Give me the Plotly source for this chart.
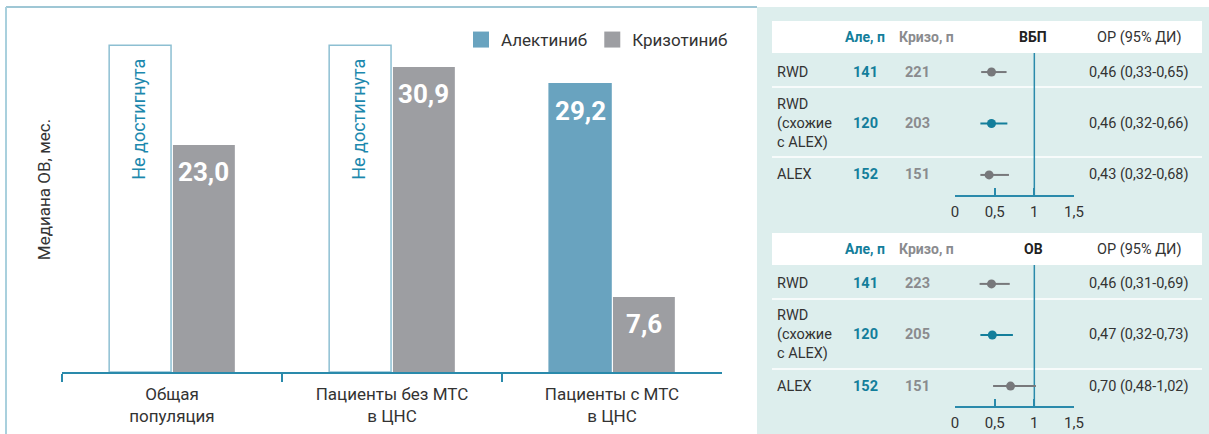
import plotly.graph_objects as go

# ---------------- data ----------------
categories = ["Общая<br>популяция", "Пациенты без МТС<br>в ЦНС", "Пациенты с МТС<br>в ЦНС"]
alectinib_os = [None, None, 29.2]          # None = медиана не достигнута
crizotinib_os = [23.0, 30.9, 7.6]
NOT_REACHED_HEIGHT = 33.1                   # display height of "not reached" bar
NOT_REACHED_TEXT = "Не достигнута"

forest_labels = ["RWD", "RWD<br>(схожие<br>с ALEX)", "ALEX"]
forest_highlight = [False, True, False]
ale_n_pfs = [141, 120, 152]
kriz_n_pfs = [221, 203, 151]
hr_pfs = [0.46, 0.46, 0.43]
lo_pfs = [0.33, 0.32, 0.32]
hi_pfs = [0.65, 0.66, 0.68]
ale_n_os = [141, 120, 152]
kriz_n_os = [223, 205, 151]
hr_os = [0.46, 0.47, 0.70]
lo_os = [0.31, 0.32, 0.48]
hi_os = [0.69, 0.73, 1.02]
forest_ticks = [0, 0.5, 1, 1.5]
forest_ticktext = ["0", "0,5", "1", "1,5"]

# ---------------- style ----------------
W, H = 1209, 434
FONT = "Roboto, DejaVu Sans Condensed, sans-serif"
C_ALE = "#69a3bf"
C_KRIZ = "#9d9ea2"
C_OUTLINE = "#8dbfd2"
C_TEAL_TXT = "#1c88ad"
C_AXIS = "#2a8aab"
C_TXT = "#333333"
C_PANEL = "#ddeeed"
C_F_GRAY = "#77787b"
C_F_TEAL = "#137e9b"
C_N_GRAY = "#8a8b8e"


def px(x):
    return x / W


def py(y):
    return 1 - y / H


def fmt(v):
    return f"{v:.1f}".replace(".", ",")


def fmt2(v):
    return f"{v:.2f}".replace(".", ",")


fig = go.Figure()

# ---------------- bar chart ----------------
ale_heights = [NOT_REACHED_HEIGHT if v is None else v for v in alectinib_os]
ale_fill = ["white" if v is None else C_ALE for v in alectinib_os]
ale_line = [C_OUTLINE if v is None else C_ALE for v in alectinib_os]

fig.add_trace(go.Bar(
    x=categories, y=ale_heights, name="Алектиниб", showlegend=False,
    marker=dict(color=ale_fill, line=dict(color=ale_line, width=1.5)),
    xaxis="x", yaxis="y", hoverinfo="skip"))
fig.add_trace(go.Bar(
    x=categories, y=crizotinib_os, name="Кризотиниб", showlegend=False,
    marker=dict(color=C_KRIZ, line=dict(color=C_KRIZ, width=0)),
    xaxis="x", yaxis="y", hoverinfo="skip"))

# legend-only entries (square swatches)
for nm, col in [("Алектиниб", C_ALE), ("Кризотиниб", C_KRIZ)]:
    fig.add_trace(go.Scatter(
        x=[None], y=[None], mode="markers", name=nm,
        marker=dict(symbol="square", size=18, color=col),
        xaxis="x", yaxis="y"))

annotations = []
BAR_OFFSET = 31.5
VAL_FONT = dict(family=FONT, size=26, color="white")
for cat, a, k in zip(categories, alectinib_os, crizotinib_os):
    if a is None:
        annotations.append(dict(
            x=cat, y=NOT_REACHED_HEIGHT, xref="x", yref="y", text=NOT_REACHED_TEXT,
            textangle=-90, showarrow=False, xshift=-BAR_OFFSET - 2, yshift=-74,
            yanchor="middle", xanchor="center",
            font=dict(family=FONT, size=18, color=C_TEAL_TXT)))
    else:
        annotations.append(dict(
            x=cat, y=a, xref="x", yref="y", text=f"<b>{fmt(a)}</b>",
            showarrow=False, xshift=-BAR_OFFSET, yshift=-27, yanchor="middle",
            xanchor="center", font=VAL_FONT))
    annotations.append(dict(
        x=cat, y=k, xref="x", yref="y", text=f"<b>{fmt(k)}</b>",
        showarrow=False, xshift=BAR_OFFSET, yshift=-27, yanchor="middle",
        xanchor="center", font=VAL_FONT))

# ---------------- forest plots ----------------
panels = [
    dict(title="ВБП", ale=ale_n_pfs, kriz=kriz_n_pfs, hr=hr_pfs, lo=lo_pfs, hi=hi_pfs,
         xa="x2", ya="y2", top=21),
    dict(title="ОВ", ale=ale_n_os, kriz=kriz_n_os, hr=hr_os, lo=lo_os, hi=hi_os,
         xa="x3", ya="y3", top=233),
]

shapes = []
# panel frame (left) and teal background (right)
shapes.append(dict(type="rect", xref="paper", yref="paper", x0=px(757), x1=1,
                   y0=0, y1=py(7), fillcolor=C_PANEL, line=dict(width=0), layer="below"))
shapes.append(dict(type="line", xref="paper", yref="paper", x0=px(6), x1=px(757),
                   y0=py(7), y1=py(7), line=dict(color="#7fb4c7", width=1.5)))
shapes.append(dict(type="line", xref="paper", yref="paper", x0=px(6), x1=px(6),
                   y0=0, y1=py(7), line=dict(color="#a9d0dd", width=2)))

rows = list(range(len(forest_labels)))
for p in panels:
    t = p["top"]
    hb = t + 32  # header bottom
    shapes.append(dict(type="rect", xref="paper", yref="paper", x0=px(772), x1=px(1202),
                       y0=py(hb), y1=py(t), fillcolor="white", line=dict(width=0), layer="below"))
    for sep in (hb + 34, hb + 104):
        shapes.append(dict(type="line", xref="paper", yref="paper", x0=px(772), x1=px(1202),
                           y0=py(sep), y1=py(sep), line=dict(color="white", width=1.5), layer="below"))
    shapes.append(dict(type="line", xref=p["xa"], yref=f"{p['ya']} domain", x0=1, x1=1,
                       y0=0, y1=1, line=dict(color=C_AXIS, width=1.5), layer="below"))
    hy = py(t + 16)
    annotations += [
        dict(x=px(865), y=hy, xref="paper", yref="paper", text="<b>Але, п</b>", showarrow=False,
             xanchor="center", yanchor="middle", font=dict(family=FONT, size=14, color=C_F_TEAL)),
        dict(x=px(926), y=hy, xref="paper", yref="paper", text="<b>Кризо, п</b>", showarrow=False,
             xanchor="center", yanchor="middle", font=dict(family=FONT, size=14, color=C_N_GRAY)),
        dict(x=px(1033), y=hy, xref="paper", yref="paper", text=f"<b>{p['title']}</b>", showarrow=False,
             xanchor="center", yanchor="middle", font=dict(family=FONT, size=14, color="#222222")),
        dict(x=px(1139), y=hy, xref="paper", yref="paper", text="ОР (95% ДИ)", showarrow=False,
             xanchor="center", yanchor="middle", font=dict(family=FONT, size=14.5, color=C_TXT)),
    ]
    for r, lab, a, k, hr, lo, hi, hl in zip(rows, forest_labels, p["ale"], p["kriz"],
                                            p["hr"], p["lo"], p["hi"], forest_highlight):
        col = C_F_TEAL if hl else C_F_GRAY
        fig.add_trace(go.Scatter(
            x=[hr], y=[r], mode="markers", showlegend=False, hoverinfo="skip",
            marker=dict(size=9, color=col),
            error_x=dict(type="data", symmetric=False, array=[hi - hr], arrayminus=[hr - lo],
                         color=col, thickness=2, width=0),
            xaxis=p["xa"], yaxis=p["ya"]))
        annotations += [
            dict(x=px(775), y=r, xref="paper", yref=p["ya"], text=lab, showarrow=False,
                 xanchor="left", yanchor="middle", align="left",
                 font=dict(family=FONT, size=14.5, color=C_TXT)),
            dict(x=px(865), y=r, xref="paper", yref=p["ya"], text=f"<b>{a}</b>", showarrow=False,
                 xanchor="center", yanchor="middle", font=dict(family=FONT, size=14.5, color=C_F_TEAL)),
            dict(x=px(918), y=r, xref="paper", yref=p["ya"], text=f"<b>{k}</b>", showarrow=False,
                 xanchor="center", yanchor="middle", font=dict(family=FONT, size=14.5, color=C_N_GRAY)),
            dict(x=px(1139), y=r, xref="paper", yref=p["ya"],
                 text=f"{fmt2(hr)} ({fmt2(lo)}-{fmt2(hi)})", showarrow=False,
                 xanchor="center", yanchor="middle",
                 font=dict(family=FONT, size=14.5, color=C_TXT)),
        ]

forest_x = dict(range=[0, 1.5], showline=True, linecolor=C_AXIS, linewidth=1.5,
                ticks="inside", ticklen=7, tickwidth=1.5, tickcolor=C_AXIS,
                tickvals=forest_ticks, ticktext=forest_ticktext, showgrid=False, zeroline=False,
                tickfont=dict(family=FONT, size=15, color=C_TXT), ticklabelstandoff=2,
                automargin=False, fixedrange=True)
forest_y = dict(range=[2.39, -0.37], showgrid=False, zeroline=False, showticklabels=False,
                showline=False, ticks="", automargin=False, fixedrange=True)

fig.update_layout(
    width=W, height=H,
    margin=dict(l=0, r=0, t=0, b=0, pad=0, autoexpand=False),
    paper_bgcolor="white", plot_bgcolor="rgba(0,0,0,0)",
    font=dict(family=FONT, color=C_TXT),
    barmode="group", bargap=0.42, bargroupgap=0.03,
    showlegend=True,
    legend=dict(orientation="h", x=px(461), xanchor="left", y=py(40), yanchor="middle",
                font=dict(family=FONT, size=17, color=C_TXT), bgcolor="rgba(0,0,0,0)",
                itemclick=False, itemdoubleclick=False),
    xaxis=dict(domain=[px(62), px(722)], type="category", range=[-0.5, 2.5],
               showline=True, linecolor=C_AXIS, linewidth=1.5, ticks="outside",
               tickson="boundaries", ticklen=8, tickwidth=1.5, tickcolor=C_AXIS,
               showgrid=False, tickfont=dict(family=FONT, size=17, color=C_TXT),
               ticklabelstandoff=6, anchor="y", automargin=False, fixedrange=True),
    yaxis=dict(domain=[py(372), py(7)], range=[0, 36.98], showgrid=False, zeroline=False,
               showticklabels=False, showline=False, ticks="", anchor="x",
               title=dict(text="Медиана ОВ, мес.", standoff=6,
                          font=dict(family=FONT, size=17, color=C_TXT)),
               automargin=False, fixedrange=True),
    xaxis2=dict(domain=[px(955), px(1074)], anchor="y2", **forest_x),
    yaxis2=dict(domain=[py(195), py(53)], anchor="x2", **forest_y),
    xaxis3=dict(domain=[px(955), px(1074)], anchor="y3", **forest_x),
    yaxis3=dict(domain=[py(406), py(265)], anchor="x3", **forest_y),
    shapes=shapes,
    annotations=annotations,
)

fig.write_html(
    "out.html",
    config={"displayModeBar": False},
    post_script="document.body.style.margin='0';document.body.style.overflow='hidden';",
)
